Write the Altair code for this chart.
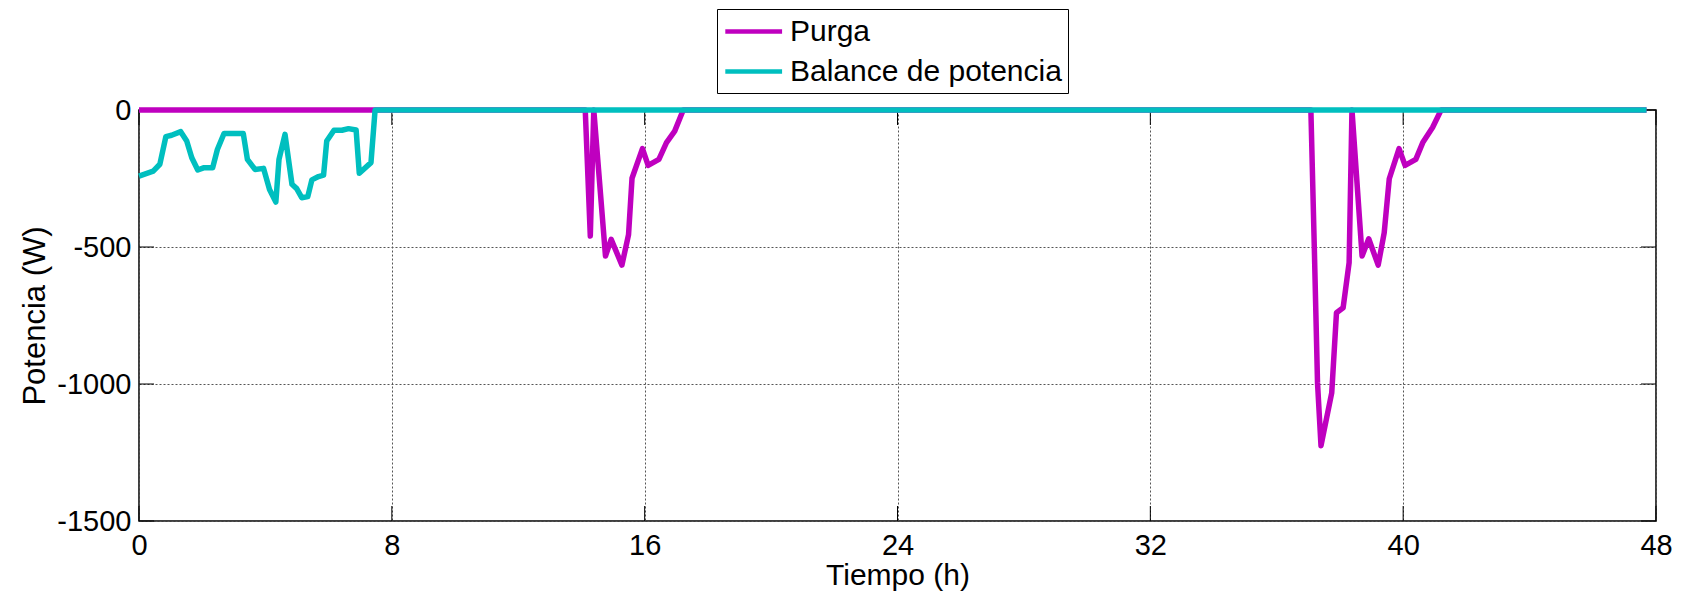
import altair as alt
import pandas as pd

# ---- data ----
series = ["Purga", "Balance de potencia"]
colors = ["#BF00BF", "#00BFBF"]

t_purga = [0, 14.12, 14.28, 14.39, 14.76, 14.94, 15.28, 15.49, 15.60, 15.93, 16.11,
           16.45, 16.69, 16.95, 17.22, 37.08, 37.19, 37.29, 37.40, 37.74, 37.89,
           38.10, 38.29, 38.38, 38.70, 38.91, 39.21, 39.40, 39.56, 39.87, 40.06,
           40.40, 40.62, 40.93, 41.20, 47.7]
p_purga = [0, 0, -460, 0, -533, -472, -566, -455, -249, -141, -202,
           -180, -119, -77, 0, 0, -509, -996, -1225, -1032, -740,
           -722, -557, 0, -533, -470, -566, -448, -251, -141, -202,
           -180, -119, -64, 0, 0]

t_balance = [0.0, 0.45, 0.66, 0.85, 1.03, 1.32, 1.51, 1.67, 1.86, 2.04, 2.33, 2.48,
             2.69, 3.30, 3.43, 3.67, 3.94, 4.13, 4.33, 4.43, 4.62, 4.84, 4.99, 5.15,
             5.34, 5.47, 5.68, 5.84, 5.94, 6.17, 6.42, 6.63, 6.87, 6.97, 7.34, 7.47,
             47.7]
p_balance = [-241, -223, -198, -97, -92, -79, -113, -174, -219, -211, -211, -144,
             -86, -86, -180, -217, -213, -290, -336, -180, -89, -271, -287, -320,
             -316, -255, -243, -238, -113, -74, -74, -68, -73, -231, -192, 0,
             0]

x_ticks = [0, 8, 16, 24, 32, 40, 48]
y_ticks = [-1500, -1000, -500, 0]

W, H = 1517, 411
TICK = 15
FONT = "Liberation Sans"

df = pd.concat([
    pd.DataFrame({"t": t_purga, "p": p_purga, "serie": series[0]}),
    pd.DataFrame({"t": t_balance, "p": p_balance, "serie": series[1]}),
], ignore_index=True)
xt = pd.DataFrame({"t": x_ticks})
yt = pd.DataFrame({"p": y_ticks})

x_scale = alt.Scale(domain=[0, 48], nice=False, zero=False)
y_scale = alt.Scale(domain=[-1500, 0], nice=False, zero=False)
color_scale = alt.Scale(domain=series, range=colors)

x_axis = alt.Axis(values=x_ticks, title="Tiempo (h)", grid=True, ticks=False,
                  domain=False, labelFlush=False, labelPadding=10,
                  labelFontSize=29, titleFontSize=30, titlePadding=0,
                  gridDash=[2, 2], gridColor="#555555", gridWidth=1,
                  labelExpr="'' + datum.value", labelOverlap=False)
y_axis = alt.Axis(values=y_ticks, title="Potencia (W)", grid=True, ticks=False,
                  domain=False, labelFlush=False, labelPadding=8,
                  labelFontSize=29, titleFontSize=31, titlePadding=5,
                  gridDash=[2, 2], gridColor="#555555", gridWidth=1,
                  labelExpr="'' + datum.value", labelOverlap=False)

legend = alt.Legend(title=None, orient="none", legendX=578, legendY=-101,
                    direction="vertical", symbolType="M-1,0H3", symbolSize=806,
                    symbolStrokeWidth=4.5, labelFontSize=30, labelOffset=34,
                    labelFont=FONT, labelColor="black", padding=6, rowPadding=8,
                    strokeColor="black", fillColor="white", labelLimit=0)

base = alt.Chart(df)

purga = base.transform_filter(alt.datum.serie == series[0]).mark_line(
    strokeWidth=5.5, strokeJoin="round", strokeCap="butt").encode(
    x=alt.X("t:Q", scale=x_scale, axis=x_axis),
    y=alt.Y("p:Q", scale=y_scale, axis=y_axis),
    color=alt.Color("serie:N", scale=color_scale, legend=legend),
)
balance = base.transform_filter(alt.datum.serie == series[1]).mark_line(
    strokeWidth=5.5, strokeJoin="round", strokeCap="butt").encode(
    x=alt.X("t:Q", scale=x_scale),
    y=alt.Y("p:Q", scale=y_scale),
    color=alt.Color("serie:N", scale=color_scale, legend=legend),
)

tick_style = dict(color="black", strokeWidth=1)
bottom_ticks = alt.Chart(xt).mark_rule(**tick_style).encode(
    x=alt.X("t:Q", scale=x_scale), y=alt.value(H), y2=alt.value(H - TICK))
top_ticks = alt.Chart(xt).mark_rule(**tick_style).encode(
    x=alt.X("t:Q", scale=x_scale), y=alt.value(0), y2=alt.value(TICK))
left_ticks = alt.Chart(yt).mark_rule(**tick_style).encode(
    y=alt.Y("p:Q", scale=y_scale), x=alt.value(0), x2=alt.value(TICK))
right_ticks = alt.Chart(yt).mark_rule(**tick_style).encode(
    y=alt.Y("p:Q", scale=y_scale), x=alt.value(W - TICK), x2=alt.value(W))

chart = alt.layer(
    bottom_ticks, top_ticks, left_ticks, right_ticks, purga, balance
).properties(
    width=W, height=H,
    autosize=alt.AutoSizeParams(type="none"),
    padding={"left": 131, "top": 102, "right": 20, "bottom": 70},
    background="white",
).configure_view(
    stroke="black", strokeWidth=1.5
).configure_axis(
    labelFont=FONT, titleFont=FONT, labelColor="black", titleColor="black",
    titleFontWeight="normal",
)

chart.save("out.html", embed_options={"renderer": "svg", "actions": False})
